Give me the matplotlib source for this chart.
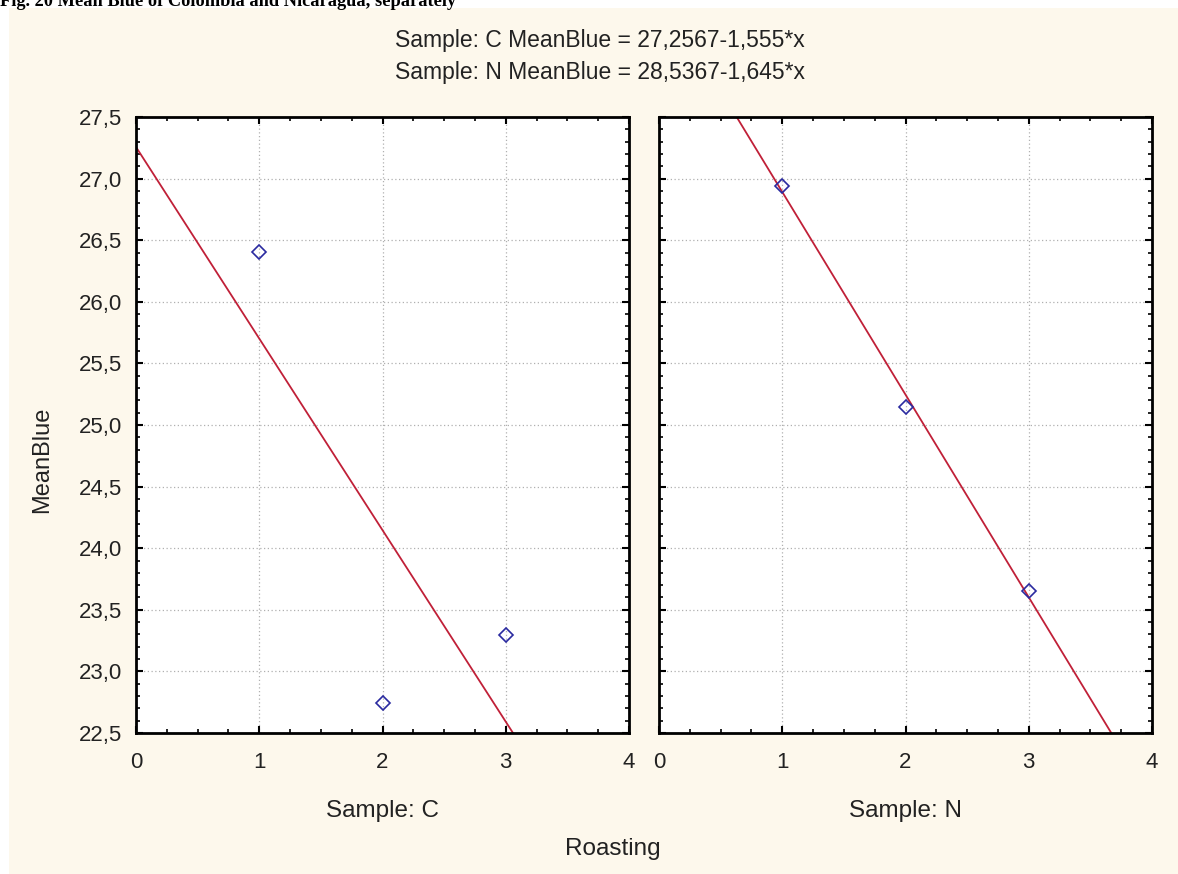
import matplotlib.pyplot as plt
from matplotlib.patches import Rectangle
from matplotlib.ticker import MultipleLocator, FuncFormatter
import numpy as np

plt.rcParams['font.family'] = ['Liberation Sans', 'DejaVu Sans']

samples = ['C', 'N']
roasting = [1, 2, 3]
mean_blue = {'C': [26.405, 22.74, 23.295], 'N': [26.94, 25.15, 23.65]}
intercepts = {'C': 27.2567, 'N': 28.5367}
slopes = {'C': -1.555, 'N': -1.645}
titles = ['Sample: C MeanBlue = 27,2567-1,555*x',
          'Sample: N MeanBlue = 28,5367-1,645*x']

W, H = 1178, 874
fig = plt.figure(figsize=(W / 100, H / 100), dpi=100, facecolor='white')
fig.patches.append(Rectangle((9 / W, 0), 1, 1 - 8 / H, transform=fig.transFigure,
                             facecolor='#fdf8ec', edgecolor='none', zorder=-10))

# caption of the figure, cut at the top edge as in the source
fig.text(0.0, 1 - 6 / H, 'Fig. 20 Mean Blue of Colombia and Nicaragua, separately',
         family='Liberation Serif', weight='bold', fontsize=13.2, va='baseline', ha='left')

comma = FuncFormatter(lambda v, p: f'{v:.1f}'.replace('.', ','))
lefts = [136, 659]
axes = []
for i, s in enumerate(samples):
    ax = fig.add_axes([lefts[i] / W, (H - 733) / H, 493 / W, 616 / H])
    ax.set_facecolor('white')
    xs = np.array([0, 4])
    ax.plot(xs, intercepts[s] + slopes[s] * xs, color='#c02038', lw=1.3, zorder=2)
    ax.plot(roasting, mean_blue[s], 'D', mfc='none', mec='#2a2aa0', mew=1.2, ms=7.5, zorder=3)
    ax.set_xlim(0, 4)
    ax.set_ylim(22.5, 27.5)
    ax.xaxis.set_major_locator(MultipleLocator(1))
    ax.xaxis.set_minor_locator(MultipleLocator(0.25))
    ax.yaxis.set_major_locator(MultipleLocator(0.5))
    ax.yaxis.set_minor_locator(MultipleLocator(0.1))
    ax.yaxis.set_major_formatter(comma)
    ax.grid(True, which='major', color='#b0b0b0', linestyle=(0, (1, 2)), lw=0.9)
    ax.tick_params(which='both', direction='in', top=True, right=True, color='black')
    ax.tick_params(which='major', length=5, width=1.5, labelsize=16, labelcolor='#222222')
    ax.tick_params(axis='x', pad=14)
    ax.tick_params(axis='y', pad=10)
    ax.tick_params(which='minor', length=3, width=1.2)
    for sp in ax.spines.values():
        sp.set_linewidth(2)
    ax.set_xlabel(f'Sample: {s}', fontsize=17.5, color='#222222', va='center')
    ax.xaxis.set_label_coords(0.5, (733 - 811) / 616)
    if i == 1:
        ax.tick_params(axis='y', labelleft=False)
    axes.append(ax)

axes[0].set_ylabel('MeanBlue', fontsize=17, color='#222222', va='center')
axes[0].yaxis.set_label_coords((42 - 136) / 493, (733 - 460) / 616)

fig.text(600 / W, 1 - 47 / H, titles[0], fontsize=16.5, color='#222222', ha='center', va='baseline')
fig.text(600 / W, 1 - 79 / H, titles[1], fontsize=16.5, color='#222222', ha='center', va='baseline')
fig.text(613 / W, 1 - 849 / H, 'Roasting', fontsize=17.5, color='#222222', ha='center', va='center')

fig.savefig('out.png', dpi=100)
